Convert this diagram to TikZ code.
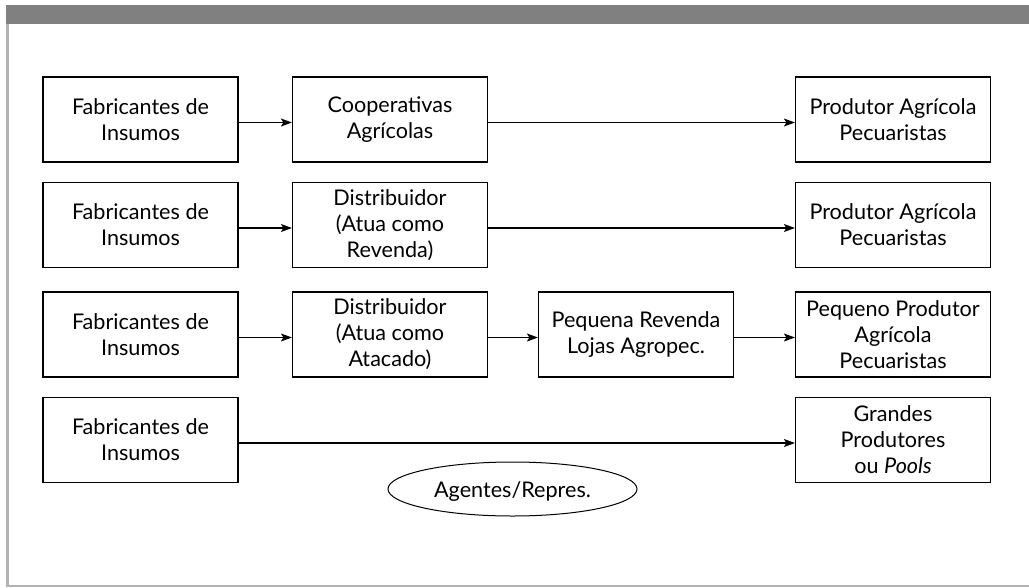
\documentclass[tikz,border=0pt]{standalone}
\usepackage{fontspec}
\setmainfont{Lato}
\usetikzlibrary{shapes.geometric,arrows.meta}
\definecolor{bargray}{HTML}{808080}
\definecolor{framegray}{HTML}{B4B4B4}
\begin{document}
\begin{tikzpicture}[x=1pt,y=-1pt,
  every node/.style={font=\fontsize{21.6}{26}\selectfont},
  % the zero-width strut lowers the text a little inside each box
  box/.style={draw=black,line width=1.2pt,rectangle,minimum width=195pt,minimum height=85pt,inner sep=0pt,align=center,
    execute at begin node={\rule{0pt}{24pt}}},
  flow/.style={line width=1.2pt,-{Stealth[length=11pt,width=8pt,inset=2.5pt]}}]
  \useasboundingbox (0,0) rectangle (1029,587);
  % frame: dark title bar, light rules on the left and bottom
  \fill[bargray] (6,5) rectangle (1029,24);
  \fill[framegray] (6,24) rectangle (9,587);
  \fill[framegray] (6,585) rectangle (1029,587);

  % row 1
  \node[box] (a1) at (140.5,119.5) {Fabricantes de\\Insumos};
  \node[box] (b1) at (390,119.5) {Cooperativas\\Agrícolas};
  \node[box] (d1) at (893,119.5) {Produtor Agrícola\\Pecuaristas};
  % row 2
  \node[box] (a2) at (140.5,225) {Fabricantes de\\Insumos};
  \node[box] (b2) at (390,225) {Distribuidor\\(Atua como\\Revenda)};
  \node[box] (d2) at (893,225) {Produtor Agrícola\\Pecuaristas};
  % row 3
  \node[box] (a3) at (140.5,334.5) {Fabricantes de\\Insumos};
  \node[box] (b3) at (390,334.5) {Distribuidor\\(Atua como\\Atacado)};
  \node[box] (c3) at (636,334.5) {Pequena Revenda\\Lojas Agropec.};
  \node[box] (d3) at (893,334.5) {Pequeno Produtor\\Agrícola\\Pecuaristas};
  % row 4
  \node[box] (a4) at (140.5,440) {Fabricantes de\\Insumos};
  \node[box] (d4) at (893,440) {Grandes\\Produtores\\ou \textit{Pools}};
  % agents: label inside a Bezier ellipse (radii 124.5 x 27), centred 3pt above the label
  \node (ag) at (512.5,492) {Agentes/Repres.};
  \draw[line width=1pt] ([shift={(-124.5pt,3pt)}]ag.center)
    .. controls +(0,-14.9) and +(-68.8,0) .. ([yshift=30pt]ag.center)
    .. controls +(68.8,0) and +(0,-14.9) .. ([shift={(124.5pt,3pt)}]ag.center)
    .. controls +(0,14.9) and +(68.8,0) .. ([yshift=-24pt]ag.center)
    .. controls +(-68.8,0) and +(0,14.9) .. ([shift={(-124.5pt,3pt)}]ag.center) -- cycle;

  % connectors
  \draw[flow] ([yshift=-3pt]a1.east) -- ([yshift=-3pt]b1.west);
  \draw[flow] ([yshift=-3pt]b1.east) -- ([yshift=-3pt]d1.west);
  \draw[flow] ([yshift=-3pt]a2.east) -- ([yshift=-3pt]b2.west);
  \draw[flow] ([yshift=-3pt]b2.east) -- ([yshift=-3pt]d2.west);
  \draw[flow] ([yshift=-3pt]a3.east) -- ([yshift=-3pt]b3.west);
  \draw[flow] ([yshift=-3pt]b3.east) -- ([yshift=-3pt]c3.west);
  \draw[flow] ([yshift=-3pt]c3.east) -- ([yshift=-3pt]d3.west);
  \draw[flow] ([yshift=-3pt]a4.east) -- ([yshift=-3pt]d4.west);
\end{tikzpicture}
\end{document}
